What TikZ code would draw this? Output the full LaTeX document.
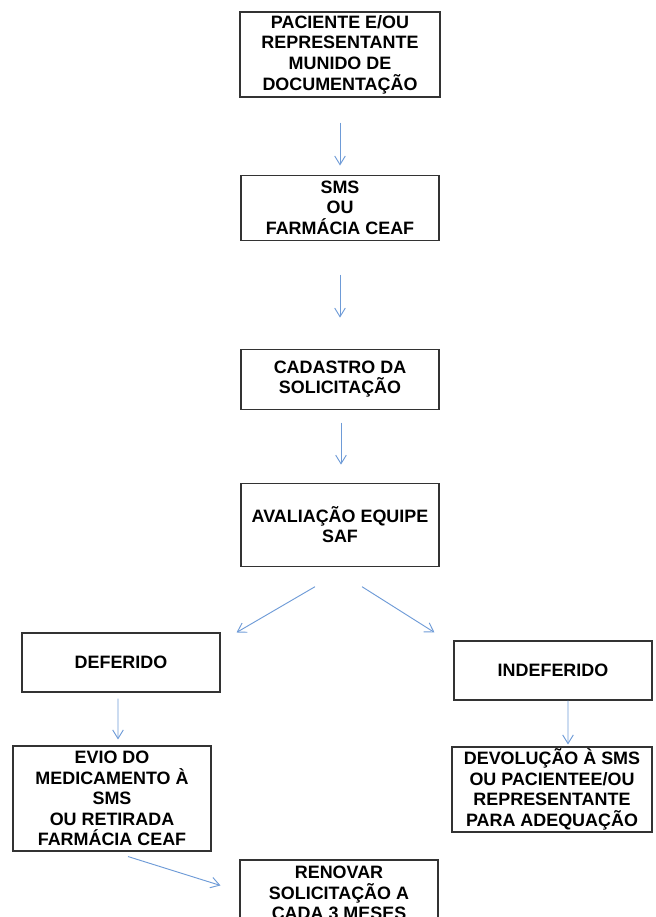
\documentclass[tikz,border=0pt]{standalone}
\usepackage{fontspec}
\setmainfont{Liberation Sans}
\usetikzlibrary{arrows.meta, positioning}

\begin{document}
\begin{tikzpicture}[
  stepbox/.style={draw=black!80, line width=0.9pt, minimum width=5.94cm, inner sep=0pt, align=center, font=\bfseries\fontsize{15.3}{17.6}\selectfont},
  flow/.style={draw={rgb,255:red,110;green,155;blue,215}, line width=0.8pt, -{Straight Barb[length=0.26cm, width=0.32cm]}}
]
\useasboundingbox (0,0) rectangle (19.65,-27.51);

\node[stepbox, minimum width=6cm, minimum height=2.55cm] (paciente) at (10.2,-1.635) {PACIENTE E/OU\\REPRESENTANTE\\MUNIDO DE\\DOCUMENTAÇÃO};
\node[stepbox, minimum height=1.95cm, below=2.31cm of paciente] (sms) {SMS\\OU\\FARMÁCIA CEAF};
\node[stepbox, minimum height=1.8cm, below=3.24cm of sms] (cadastro) {CADASTRO DA\\SOLICITAÇÃO};
\node[stepbox, minimum height=2.49cm, below=2.19cm of cadastro] (avaliacao) {AVALIAÇÃO EQUIPE\\SAF};
\node[stepbox, minimum height=1.77cm] (deferido) at (3.63,-19.875) {DEFERIDO};
\node[stepbox, minimum height=1.77cm] (indeferido) at (16.59,-20.115) {INDEFERIDO};
\node[stepbox, minimum height=3.15cm] (envio) at (3.36,-23.955) {EVIO DO\\MEDICAMENTO À\\SMS\\OU RETIRADA\\FARMÁCIA CEAF};
\node[stepbox, minimum width=6cm, minimum height=2.55cm] (devolucao) at (16.56,-23.685) {DEVOLUÇÃO À SMS\\OU PACIENTEE/OU\\REPRESENTANTE\\PARA ADEQUAÇÃO};
\node[stepbox, minimum height=1.98cm] (renovar) at (10.17,-26.79) {RENOVAR\\SOLICITAÇÃO A\\CADA 3 MESES};

\draw[flow, shorten <=0.75cm, shorten >=0.27cm] (paciente) -- (sms);
\draw[flow, shorten <=1.02cm, shorten >=0.93cm] (sms) -- (cadastro);
\draw[flow, shorten <=0.39cm, shorten >=0.54cm] ([xshift=0.03cm]cadastro.south) -- ([xshift=0.03cm]avaliacao.north);
\draw[flow] ([shift={(-0.75,-0.6)}]avaliacao.south) -- ([xshift=0.48cm]deferido.north east);
\draw[flow] ([shift={(0.66,-0.6)}]avaliacao.south) -- ([shift={(-0.57,0.24)}]indeferido.north west);
\draw[flow] ([shift={(-0.09,-0.18)}]deferido.south) -- ([shift={(0.18,0.18)}]envio.north);
\draw[flow] ([xshift=0.45cm]indeferido.south) -- ([shift={(0.48,0.06)}]devolucao.north);
\draw[flow] ([shift={(0.48,-0.15)}]envio.south) -- ([shift={(-0.57,-0.78)}]renovar.north west);

\end{tikzpicture}
\end{document}
